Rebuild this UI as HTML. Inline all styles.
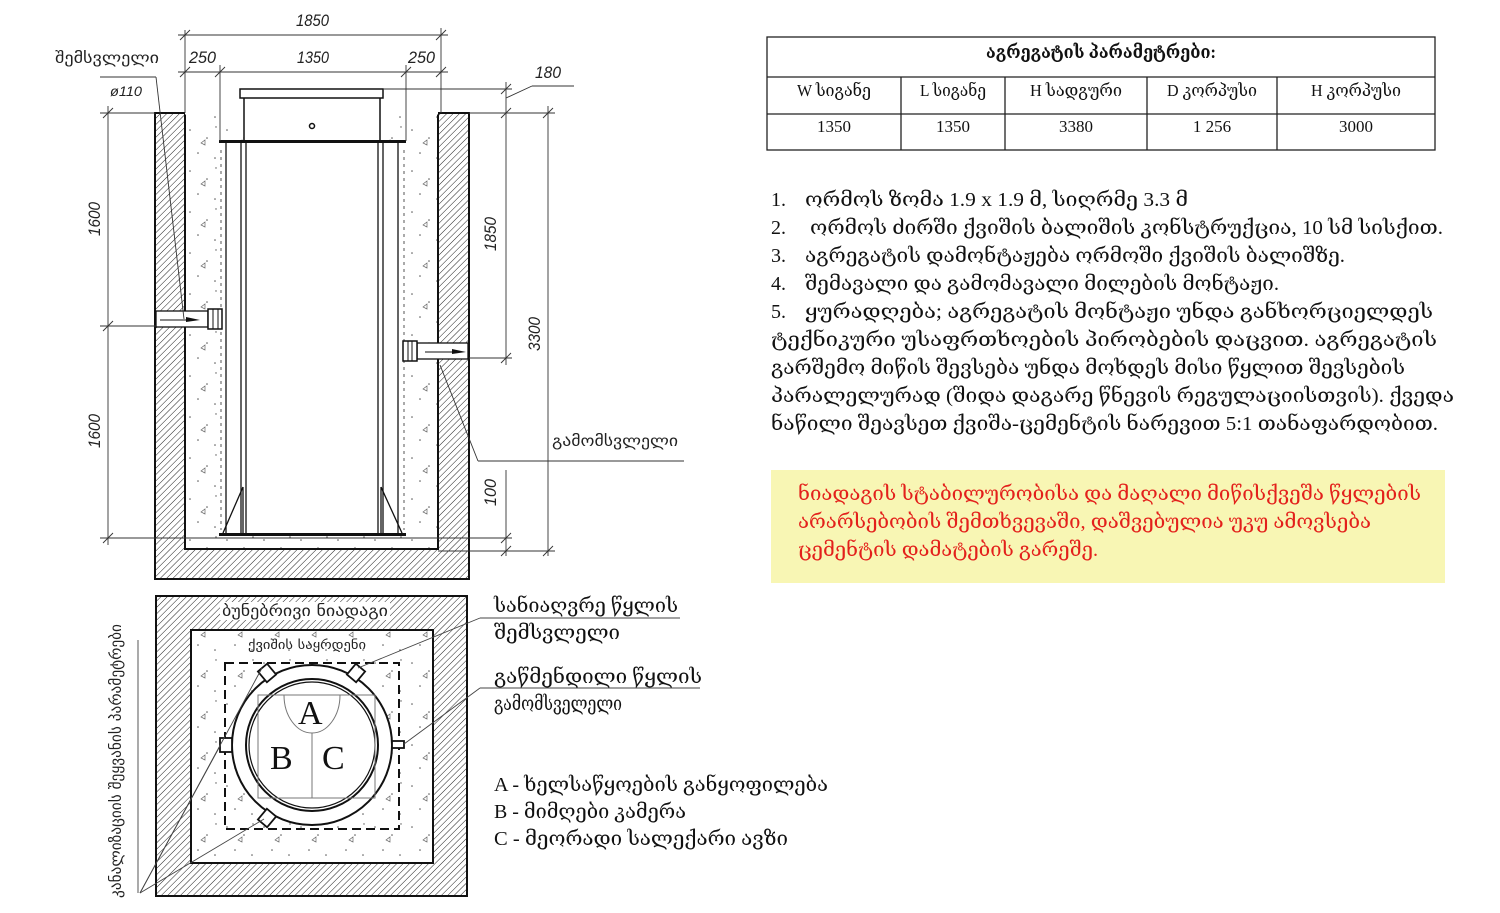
<!DOCTYPE html>
<html><head><meta charset="utf-8"><style>
html,body{margin:0;padding:0;background:#fff;}
svg{display:block;}
.s{font-family:"Liberation Serif","DejaVu Serif",serif;}
.a{font-family:"Liberation Sans","DejaVu Sans",sans-serif;font-style:italic;}
</style></head><body>
<svg width="1500" height="913" viewBox="0 0 1500 913" xmlns="http://www.w3.org/2000/svg">
<defs>
<pattern id="h" width="4.5" height="4.5" patternUnits="userSpaceOnUse" patternTransform="rotate(45)">
<rect width="4.5" height="4.5" fill="#fff"/><line x1="0" y1="0" x2="0" y2="4.5" stroke="#222" stroke-width="1"/>
</pattern>
<pattern id="c" width="37" height="41" patternUnits="userSpaceOnUse">
<rect width="37" height="41" fill="#fff"/>
<circle cx="5" cy="7" r="0.8" fill="#555"/><circle cx="22" cy="15" r="0.8" fill="#555"/>
<circle cx="13" cy="30" r="0.8" fill="#555"/><circle cx="30" cy="35" r="0.8" fill="#555"/>
<circle cx="31" cy="4" r="0.7" fill="#555"/><path d="M16 20 l4 -3 l0 5 z" fill="none" stroke="#666" stroke-width="0.7"/>
</pattern>
</defs>

<!-- TOP SECTION -->
<rect x="155" y="113" width="314" height="466" fill="url(#h)" stroke="#111" stroke-width="2"/>
<rect x="185" y="113" width="253" height="436" fill="url(#c)" stroke="#111" stroke-width="2"/>
<line x1="185" y1="113" x2="438" y2="113" stroke="#fff" stroke-width="3"/>
<rect x="220" y="141" width="185" height="394" fill="#fff" stroke="none"/>
<rect x="244" y="97" width="136" height="44" fill="#fff" stroke="#111" stroke-width="1.5"/>
<rect x="240" y="89" width="143" height="9" fill="#fff" stroke="#111" stroke-width="1.5"/>
<circle cx="312" cy="126" r="2.5" fill="none" stroke="#111" stroke-width="1.5"/>
<rect x="219" y="140" width="187" height="3" fill="#111"/>
<rect x="219" y="533" width="187" height="3" fill="#111"/>
<g stroke="#111" stroke-width="1.3">
<line x1="226" y1="143" x2="226" y2="533"/><line x1="241" y1="143" x2="241" y2="533"/><line x1="246" y1="143" x2="246" y2="533"/>
<line x1="378" y1="143" x2="378" y2="533"/><line x1="383" y1="143" x2="383" y2="533"/><line x1="398" y1="143" x2="398" y2="533"/>
<line x1="223" y1="533" x2="243" y2="487"/><line x1="243" y1="487" x2="243" y2="533"/>
<line x1="402" y1="533" x2="381" y2="487"/><line x1="381" y1="487" x2="381" y2="533"/>
</g>
<line x1="221" y1="150" x2="221" y2="530" stroke="#555" stroke-width="1" stroke-dasharray="3,4"/>
<line x1="404" y1="150" x2="404" y2="530" stroke="#555" stroke-width="1" stroke-dasharray="3,4"/>
<rect x="156" y="311" width="52" height="16" fill="#fff" stroke="#111" stroke-width="1.3"/>
<rect x="208" y="309" width="14" height="20" fill="#fff" stroke="#111" stroke-width="1.5"/>
<line x1="213" y1="309" x2="213" y2="329" stroke="#111"/><line x1="218" y1="309" x2="218" y2="329" stroke="#111"/>
<path d="M160 320 H196" stroke="#111"/><path d="M186 317 L200 320 L186 322 Z" fill="#111"/>
<rect x="417" y="343" width="51" height="16" fill="#fff" stroke="#111" stroke-width="1.3"/>
<rect x="403" y="341" width="14" height="20" fill="#fff" stroke="#111" stroke-width="1.5"/>
<line x1="408" y1="341" x2="408" y2="361" stroke="#111"/><line x1="412" y1="341" x2="412" y2="361" stroke="#111"/>
<path d="M425 352 H462" stroke="#111"/><path d="M452 349 L466 352 L452 354 Z" fill="#111"/>
<g stroke="#333" stroke-width="0.9" fill="none">
<line x1="178" y1="35" x2="448" y2="35"/><line x1="185" y1="30" x2="185" y2="113"/><line x1="441" y1="28" x2="441" y2="113"/>
<line x1="178" y1="72" x2="448" y2="72"/><line x1="220" y1="65" x2="220" y2="141"/><line x1="406" y1="65" x2="406" y2="141"/>
<line x1="180" y1="40" x2="190" y2="30"/><line x1="436" y1="40" x2="446" y2="30"/>
<line x1="180" y1="77" x2="190" y2="67"/><line x1="215" y1="77" x2="225" y2="67"/><line x1="401" y1="77" x2="411" y2="67"/><line x1="436" y1="77" x2="446" y2="67"/>
<line x1="108" y1="106" x2="108" y2="545"/>
<line x1="100" y1="113" x2="155" y2="113"/><line x1="100" y1="326" x2="156" y2="326"/><line x1="100" y1="538" x2="226" y2="538"/>
<line x1="103" y1="118" x2="113" y2="108"/><line x1="103" y1="331" x2="113" y2="321"/><line x1="103" y1="543" x2="113" y2="533"/>
<line x1="506" y1="82" x2="506" y2="365"/><line x1="506" y1="470" x2="506" y2="556"/>
<line x1="548" y1="106" x2="548" y2="556"/>
<line x1="383" y1="89" x2="512" y2="89"/><line x1="469" y1="113" x2="555" y2="113"/>
<line x1="469" y1="358" x2="512" y2="358"/><line x1="226" y1="538" x2="512" y2="538"/><line x1="438" y1="551" x2="555" y2="551"/>
<line x1="501" y1="94" x2="511" y2="84"/><line x1="501" y1="118" x2="511" y2="108"/><line x1="501" y1="363" x2="511" y2="353"/>
<line x1="501" y1="543" x2="511" y2="533"/><line x1="501" y1="556" x2="511" y2="546"/>
<line x1="543" y1="118" x2="553" y2="108"/><line x1="543" y1="556" x2="553" y2="546"/>
<line x1="506" y1="98" x2="532" y2="86"/><line x1="532" y1="86" x2="574" y2="86"/>
<line x1="100" y1="77" x2="156" y2="77"/><line x1="156" y1="77" x2="184" y2="319"/>
<line x1="440" y1="365" x2="478" y2="461"/><line x1="478" y1="461" x2="684" y2="461"/>
</g>
<g class="a" font-size="17" fill="#222">
<text x="296" y="26" textLength="33" lengthAdjust="spacingAndGlyphs">1850</text>
<text x="189" y="63" textLength="27" lengthAdjust="spacingAndGlyphs">250</text>
<text x="297" y="63" textLength="32" lengthAdjust="spacingAndGlyphs">1350</text>
<text x="408" y="63" textLength="27" lengthAdjust="spacingAndGlyphs">250</text>
<text x="535" y="78" textLength="26" lengthAdjust="spacingAndGlyphs">180</text>
<text x="110" y="96" font-size="14" textLength="32" lengthAdjust="spacingAndGlyphs">ø110</text>
<text transform="translate(100,236) rotate(-90)" textLength="34" lengthAdjust="spacingAndGlyphs">1600</text>
<text transform="translate(100,448) rotate(-90)" textLength="34" lengthAdjust="spacingAndGlyphs">1600</text>
<text transform="translate(496,251) rotate(-90)" textLength="34" lengthAdjust="spacingAndGlyphs">1850</text>
<text transform="translate(540,351) rotate(-90)" textLength="34" lengthAdjust="spacingAndGlyphs">3300</text>
<text transform="translate(496,506) rotate(-90)" textLength="27" lengthAdjust="spacingAndGlyphs">100</text>
</g>
<g font-family="DejaVu Sans,sans-serif" font-size="15" fill="#222">
<text x="55" y="63" textLength="104" lengthAdjust="spacingAndGlyphs">შემსვლელი</text>
<text x="552" y="446" textLength="126" lengthAdjust="spacingAndGlyphs">გამომსვლელი</text>
</g>

<!-- BOTTOM PLAN -->
<rect x="156" y="596" width="311" height="300" fill="url(#h)" stroke="#111" stroke-width="2"/>
<rect x="191" y="630" width="242" height="233" fill="url(#c)" stroke="#111" stroke-width="2"/>
<rect x="220" y="602" width="170" height="18" fill="#fff"/>
<rect x="225" y="663" width="174" height="166" fill="none" stroke="#111" stroke-width="2" stroke-dasharray="9,5"/>
<circle cx="312" cy="745" r="80" fill="#fff" stroke="#111" stroke-width="2"/>
<circle cx="312" cy="745" r="66" fill="none" stroke="#111" stroke-width="2"/>
<circle cx="312" cy="745" r="63" fill="none" stroke="#111" stroke-width="1.2"/>
<rect x="258" y="695" width="117" height="103" fill="none" stroke="#777" stroke-width="1"/>
<path d="M284 695 A28 38 0 0 0 340 695" fill="none" stroke="#777" stroke-width="1"/>
<line x1="312" y1="733" x2="312" y2="798" stroke="#777" stroke-width="1"/>
<g stroke="#111" stroke-width="1.8" fill="#fff">
<rect x="220" y="738" width="12" height="14"/>
<rect x="392" y="741" width="12" height="7"/>
<rect x="261" y="666" width="12" height="14" transform="rotate(-40 267 673)"/>
<rect x="350" y="666" width="12" height="14" transform="rotate(40 356 673)"/>
<rect x="261" y="811" width="12" height="14" transform="rotate(40 267 818)"/>
</g>
<g class="s" font-size="34" fill="#111">
<text x="298" y="724">A</text><text x="270" y="769">B</text><text x="322" y="769">C</text>
</g>
<g font-family="DejaVu Sans,sans-serif" fill="#222">
<text x="222" y="616" font-size="15" textLength="166" lengthAdjust="spacingAndGlyphs">ბუნებრივი ნიადაგი</text>
<text x="248" y="649" font-size="13" textLength="118" lengthAdjust="spacingAndGlyphs">ქვიშის საყრდენი</text>
<text transform="translate(121,898) rotate(-90)" font-size="15" textLength="274" lengthAdjust="spacingAndGlyphs">კანალიზაციის შეყვანის პარამეტრები</text>
</g>
<g stroke="#444" stroke-width="0.9" fill="none">
<line x1="138" y1="640" x2="138" y2="893"/>
<line x1="140" y1="893" x2="220" y2="746"/>
<line x1="140" y1="893" x2="264" y2="819"/>
<line x1="140" y1="893" x2="262" y2="668"/>
<line x1="358" y1="668" x2="480" y2="618"/><line x1="480" y1="618" x2="680" y2="618"/>
<line x1="404" y1="744" x2="480" y2="688"/><line x1="480" y1="688" x2="700" y2="688"/>
</g>
<g class="s" font-size="20" fill="#111">
<text x="494" y="612" textLength="184" lengthAdjust="spacingAndGlyphs">სანიაღვრე წყლის</text>
<text x="494" y="639" textLength="126" lengthAdjust="spacingAndGlyphs">შემსვლელი</text>
<text x="494" y="683" textLength="208" lengthAdjust="spacingAndGlyphs">გაწმენდილი წყლის</text>
<text x="494" y="710" textLength="128" lengthAdjust="spacingAndGlyphs">გამომსველელი</text>
<text x="494" y="791" textLength="334" lengthAdjust="spacingAndGlyphs">A - ხელსაწყოების განყოფილება</text>
<text x="494" y="818" textLength="192" lengthAdjust="spacingAndGlyphs">B - მიმღები კამერა</text>
<text x="494" y="845" textLength="294" lengthAdjust="spacingAndGlyphs">C - მეორადი სალექარი ავზი</text>
</g>

<!-- TABLE -->
<g stroke="#222" stroke-width="1.3" fill="none">
<rect x="767" y="37" width="668" height="113"/>
<line x1="767" y1="77" x2="1435" y2="77"/><line x1="767" y1="114" x2="1435" y2="114"/>
<line x1="901" y1="77" x2="901" y2="150"/><line x1="1005" y1="77" x2="1005" y2="150"/>
<line x1="1147" y1="77" x2="1147" y2="150"/><line x1="1277" y1="77" x2="1277" y2="150"/>
</g>
<g class="s" fill="#111" text-anchor="middle">
<text x="1101" y="58" font-size="18" font-weight="bold" textLength="230" lengthAdjust="spacingAndGlyphs">აგრეგატის პარამეტრები:</text>
<g font-size="17">
<text x="834" y="96" textLength="74" lengthAdjust="spacingAndGlyphs">W სიგანე</text>
<text x="953" y="96" textLength="66" lengthAdjust="spacingAndGlyphs">L სიგანე</text>
<text x="1076" y="96" textLength="92" lengthAdjust="spacingAndGlyphs">H სადგური</text>
<text x="1212" y="96" textLength="90" lengthAdjust="spacingAndGlyphs">D კორპუსი</text>
<text x="1356" y="96" textLength="90" lengthAdjust="spacingAndGlyphs">H კორპუსი</text>
<text x="834" y="132">1350</text><text x="953" y="132">1350</text><text x="1076" y="132">3380</text>
<text x="1212" y="132">1 256</text><text x="1356" y="132">3000</text>
</g>
</g>

<!-- LIST -->
<g class="s" font-size="20" fill="#111">
<text x="771" y="206">1.</text><text x="805" y="206" textLength="383" lengthAdjust="spacingAndGlyphs">ორმოს ზომა 1.9 x 1.9 მ, სიღრმე 3.3 მ</text>
<text x="771" y="234">2.</text><text x="810" y="234" textLength="633" lengthAdjust="spacingAndGlyphs">ორმოს ძირში ქვიშის ბალიშის კონსტრუქცია, 10 სმ სისქით.</text>
<text x="771" y="262">3.</text><text x="805" y="262" textLength="540" lengthAdjust="spacingAndGlyphs">აგრეგატის დამონტაჟება ორმოში ქვიშის ბალიშზე.</text>
<text x="771" y="290">4.</text><text x="805" y="290" textLength="474" lengthAdjust="spacingAndGlyphs">შემავალი და გამომავალი მილების მონტაჟი.</text>
<text x="771" y="318">5.</text><text x="805" y="318" textLength="628" lengthAdjust="spacingAndGlyphs">ყურადღება; აგრეგატის მონტაჟი უნდა განხორციელდეს</text>
<text x="771" y="346" textLength="666" lengthAdjust="spacingAndGlyphs">ტექნიკური უსაფრთხოების პირობების დაცვით. აგრეგატის</text>
<text x="771" y="374" textLength="634" lengthAdjust="spacingAndGlyphs">გარშემო მიწის შევსება უნდა მოხდეს მისი წყლით შევსების</text>
<text x="771" y="402" textLength="683" lengthAdjust="spacingAndGlyphs">პარალელურად (შიდა დაგარე წნევის რეგულაციისთვის). ქვედა</text>
<text x="771" y="430" textLength="667" lengthAdjust="spacingAndGlyphs">ნაწილი შეავსეთ ქვიშა-ცემენტის ნარევით 5:1 თანაფარდობით.</text>
</g>

<!-- NOTE -->
<rect x="771" y="470" width="674" height="113" fill="#f8f6b4"/>
<g class="s" font-size="20" fill="#e3201b">
<text x="798" y="500" textLength="623" lengthAdjust="spacingAndGlyphs">ნიადაგის სტაბილურობისა და მაღალი მიწისქვეშა წყლების</text>
<text x="798" y="528" textLength="573" lengthAdjust="spacingAndGlyphs">არარსებობის შემთხვევაში, დაშვებულია უკუ ამოვსება</text>
<text x="798" y="556" textLength="300" lengthAdjust="spacingAndGlyphs">ცემენტის დამატების გარეშე.</text>
</g>
</svg>
</body></html>
